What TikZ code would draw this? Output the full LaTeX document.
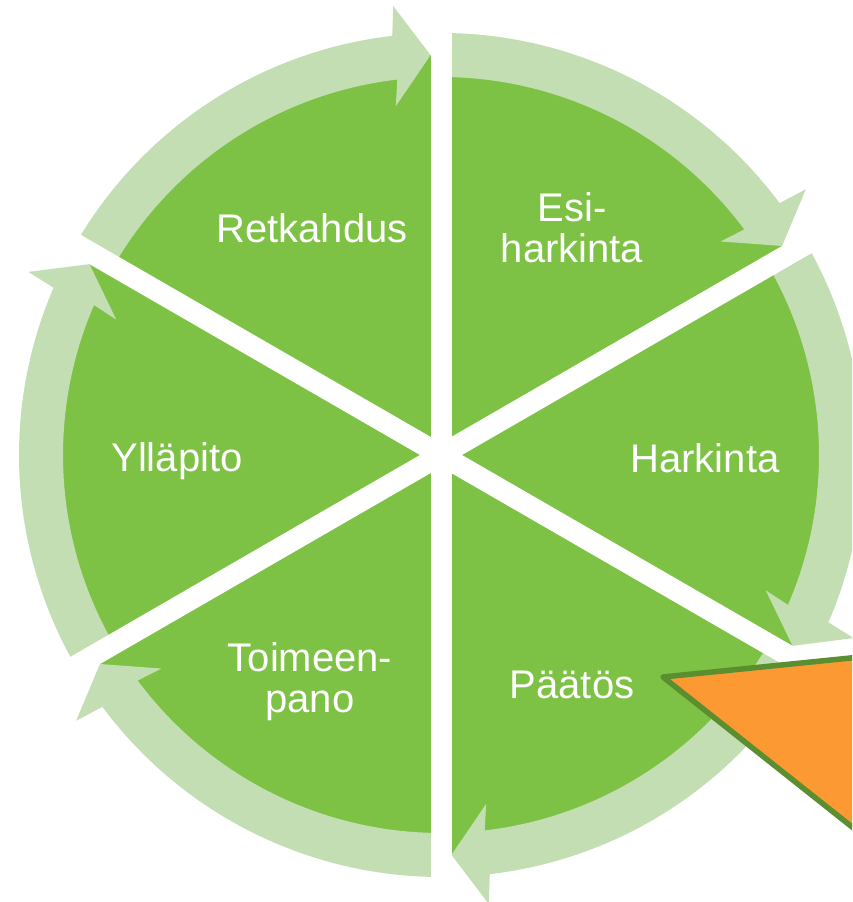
\documentclass[tikz,border=0pt]{standalone}
\usepackage{fontspec}
\setmainfont{Liberation Sans}
\usepackage{xcolor}
\usepackage{tikz}
\usetikzlibrary{calc, positioning}

\definecolor{piegreen}{RGB}{125,194,68}
\definecolor{bandgreen}{RGB}{194,222,178}
\definecolor{calloutorange}{RGB}{253,153,51}
\definecolor{calloutline}{RGB}{90,142,46}

\begin{document}
\begin{tikzpicture}[
        x=1pt, y=1pt,
        phase/.style={text=white, align=center, inner sep=0pt,
            font=\fontsize{40pt}{41pt}\selectfont},
        gapline/.style={draw=white, line width=21pt},
        cyclearrow/.style={fill=bandgreen}
    ]
    \useasboundingbox (0,0) rectangle (852,902);
    \clip (0,0) rectangle (852,902);

    \coordinate (C) at (441,447);

    % pie
    \fill[piegreen] (C) circle[radius=400pt];

    % arrows round the pie
    \foreach \s in {150,90,30,-30,-90,-150} {
        \pgfmathsetmacro\t{\s-58.5}
        \pgfmathsetmacro\e{\t+5.14}
        \fill[cyclearrow]
            ($(C)+(\s:378pt)$) arc[start angle=\s, end angle=\e, radius=378pt]
            -- ($(C)+(\t:350pt)+(\t+90:36pt)$)
            -- ($(C)+(\t:400pt)$)
            -- ($(C)+(\t:450pt)+(\t+90:36pt)$)
            -- ($(C)+(\e:422pt)$) arc[start angle=\e, end angle=\s, radius=422pt]
            -- cycle;
    }

    % white gaps between the phases
    \foreach \a in {30,90,150} {
        \draw[gapline] ($(C)+(\a:462pt)$) -- ($(C)+(\a+180:462pt)$);
    }

    % phase labels
    \node[phase] (retkahdus) at ($(C)+(120:262pt)+(2,0)$) {Retkahdus};
    \node[phase] (esiharkinta) at ($(C)+(60:262pt)$) {Esi-\\harkinta};
    \node[phase] (harkinta) at ($(C)+(0:264pt)+(0,-3)$) {Harkinta};
    \node[phase] (paatos) at ($(C)+(-60:262pt)+(0,-3)$) {Päätös};
    \node[phase] (toimeenpano) at ($(C)+(-120:262pt)$) {Toimeen-\\pano};
    \node[phase] (yllapito) at ($(C)+(180:264pt)+(0,-6)$) {Ylläpito};

    % callout
    \filldraw[fill=calloutorange, draw=calloutline, line width=5.5pt, line join=round]
        (663,225) -- (900,249) -- (900,37) -- cycle;
\end{tikzpicture}
\end{document}
